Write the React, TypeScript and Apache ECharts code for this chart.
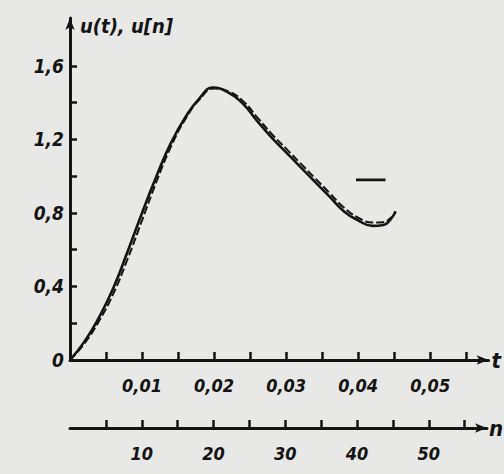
import React, { useEffect, useRef } from "react";
import * as echarts from "echarts";

// solid curve u(t)
const solidT = [0, 0.002, 0.004, 0.006, 0.008, 0.01, 0.012, 0.014, 0.016, 0.018, 0.0198, 0.022, 0.024, 0.026, 0.028, 0.03, 0.032, 0.034, 0.036, 0.038, 0.04, 0.042, 0.0435, 0.0445, 0.0452];
const solidU = [0, 0.1, 0.23, 0.39, 0.59, 0.8, 1.0, 1.18, 1.32, 1.425, 1.482, 1.455, 1.395, 1.3, 1.21, 1.13, 1.05, 0.97, 0.89, 0.81, 0.76, 0.73, 0.735, 0.765, 0.81];
// dashed curve u[n]
const dashT = [0, 0.002, 0.004, 0.006, 0.008, 0.01, 0.012, 0.014, 0.016, 0.018, 0.02, 0.022, 0.024, 0.026, 0.028, 0.03, 0.032, 0.034, 0.036, 0.038, 0.04, 0.042, 0.0435, 0.0445, 0.0452];
const dashU = [0, 0.09, 0.21, 0.36, 0.55, 0.76, 0.97, 1.16, 1.31, 1.418, 1.478, 1.462, 1.41, 1.32, 1.23, 1.15, 1.07, 0.99, 0.91, 0.83, 0.775, 0.748, 0.75, 0.772, 0.8];
// short stroke mark
const markT = [0.0397, 0.0438];
const markU = [0.98, 0.98];

const tTicks = [0.005, 0.01, 0.015, 0.02, 0.025, 0.03, 0.035, 0.04, 0.045, 0.05, 0.055];
const tLabels = [0.01, 0.02, 0.03, 0.04, 0.05];
const uTicks = [0, 0.2, 0.4, 0.6, 0.8, 1.0, 1.2, 1.4, 1.6];
const uLabels = [0, 0.4, 0.8, 1.2, 1.6];
const nTicks = [5, 10, 15, 20, 25, 30, 35, 40, 45, 50, 55];
const nLabels = [10, 20, 30, 40, 50];

const INK = "#141414";
const FONT = {
  fontFamily: "DejaVu Sans Condensed",
  fontStyle: "italic" as const,
  fontWeight: "bold" as const,
  fontSize: 18,
  color: INK,
};

export default function App() {
  const ref = useRef<HTMLDivElement>(null);
  useEffect(() => {
    if (!ref.current) return;
    const chart = echarts.init(ref.current, null, { renderer: "svg" });
    const axisLine = {
      show: true,
      lineStyle: { color: INK, width: 3 },
      symbol: ["none", "arrow"],
      symbolSize: [7, 12],
    };
    chart.setOption({
      animation: false,
      backgroundColor: "#e8e8e6",
      grid: [
        { left: 70, right: 14, top: 18, bottom: 114 },
        { left: 70, right: 14, top: 400, bottom: 46 },
      ],
      xAxis: [
        {
          type: "value",
          gridIndex: 0,
          min: 0,
          max: 0.0581,
          axisLine,
          splitLine: { show: false },
          axisTick: { show: true, inside: true, length: 8, customValues: tTicks, lineStyle: { color: INK, width: 2.5 } },
          axisLabel: {
            ...FONT,
            margin: 16,
            customValues: tLabels,
            formatter: (v: number) => v.toFixed(2).replace(".", ","),
          },
          name: "t",
          nameLocation: "end",
          nameGap: 3,
          nameTextStyle: { ...FONT, fontSize: 22 },
        },
        {
          type: "value",
          gridIndex: 1,
          min: 0,
          max: 58.1,
          axisLine,
          splitLine: { show: false },
          axisTick: { show: true, inside: true, length: 8, customValues: nTicks, lineStyle: { color: INK, width: 2.5 } },
          axisLabel: {
            ...FONT,
            margin: 16,
            customValues: nLabels,
            formatter: (v: number) => String(Math.round(v)),
          },
          name: "n",
          nameLocation: "end",
          nameGap: 2,
          nameTextStyle: { ...FONT, fontSize: 22 },
        },
      ],
      yAxis: [
        {
          type: "value",
          gridIndex: 0,
          min: 0,
          max: 1.861,
          axisLine,
          splitLine: { show: false },
          axisTick: { show: true, inside: true, length: 7, customValues: uTicks, lineStyle: { color: INK, width: 2.5 } },
          axisLabel: {
            ...FONT,
            fontSize: 19,
            margin: 6,
            customValues: uLabels,
            formatter: (v: number) => (Math.abs(v) < 1e-9 ? "0" : v.toFixed(1).replace(".", ",")),
          },
          name: "u(t), u[n]",
          nameLocation: "end",
          nameGap: -8,
          nameTextStyle: { ...FONT, fontSize: 20, align: "left", verticalAlign: "middle", padding: [0, 0, 0, 10] },
        },
        {
          type: "value",
          gridIndex: 1,
          min: 0,
          max: 1,
          show: false,
        },
      ],
      series: [
        {
          type: "line",
          xAxisIndex: 0,
          yAxisIndex: 0,
          data: solidT.map((t, i) => [t, solidU[i]]),
          smooth: 0.5,
          showSymbol: false,
          lineStyle: { color: INK, width: 2.6 },
        },
        {
          type: "line",
          xAxisIndex: 0,
          yAxisIndex: 0,
          data: dashT.map((t, i) => [t, dashU[i]]),
          smooth: 0.5,
          showSymbol: false,
          lineStyle: { color: INK, width: 2, type: [8, 3] },
        },
        {
          type: "line",
          xAxisIndex: 0,
          yAxisIndex: 0,
          data: markT.map((t, i) => [t, markU[i]]),
          showSymbol: false,
          lineStyle: { color: INK, width: 2.6 },
        },
      ],
    });
    return () => chart.dispose();
  }, []);
  return <div ref={ref} style={{ position: "fixed", left: 0, top: 0, width: 504, height: 474 }} />;
}
